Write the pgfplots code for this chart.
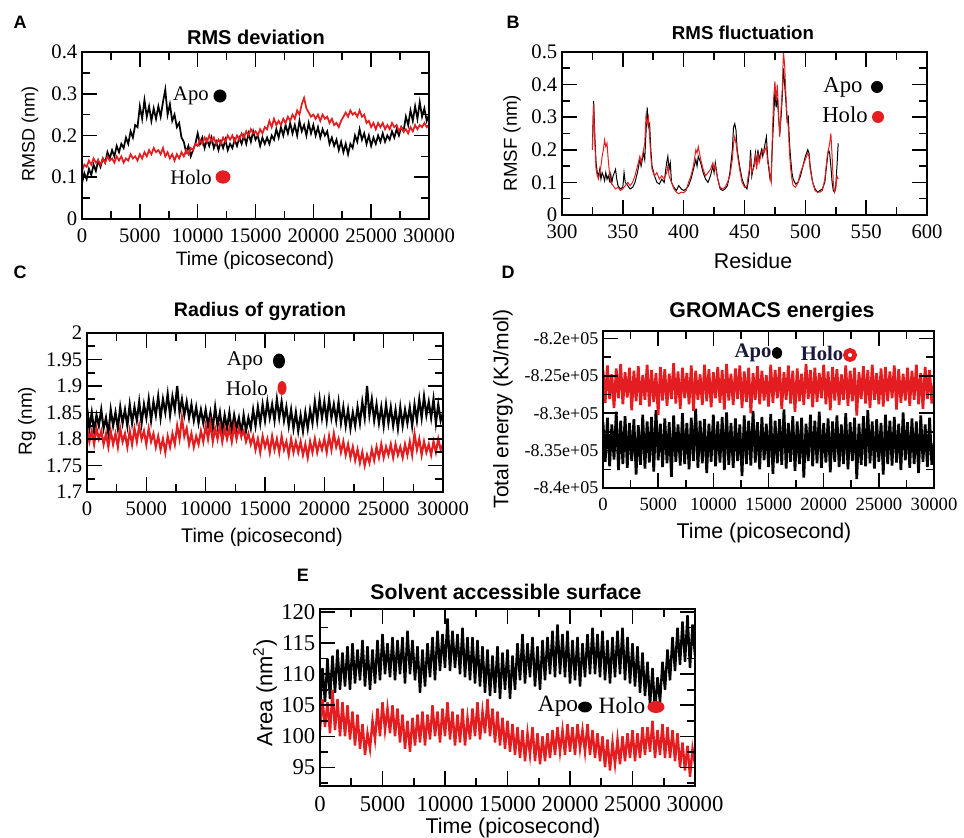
\documentclass[border=0pt]{standalone}
\usepackage{pgfplots}
\pgfplotsset{compat=1.18}
\usepackage{fontspec}
\setmainfont{Liberation Serif}
\newfontfamily\arial{Liberation Sans}
\definecolor{hred}{RGB}{228,30,32}
\definecolor{navy}{RGB}{25,25,60}

\newcommand{\fs}[1]{\fontsize{#1}{#1}\selectfont}
\tikzset{tk/.style={draw=black, line width=1.2pt}}

% inward ticks on the frame, in the pixel scope:
% \tx{left}{width}{top}{bottom}{xmin}{xrange}{values}{length}
\newcommand{\tx}[8]{\foreach \vv in {#7}{
  \draw[tk] ({#1+(\vv-(#5))/#6*#2},#4) -- ++(0,-#8);
  \draw[tk] ({#1+(\vv-(#5))/#6*#2},#3) -- ++(0,#8);}}
% \ty{left}{right}{bottom}{height}{ymin}{yrange}{values}{length}
\newcommand{\ty}[8]{\foreach \vv in {#7}{
  \draw[tk] (#1,{#3-(\vv-(#5))/#6*#4}) -- ++(#8,0);
  \draw[tk] (#2,{#3-(\vv-(#5))/#6*#4}) -- ++(-#8,0);}}
\newcommand{\timetk}[4]{% time axis ticks: left, width, top, bottom
  \tx{#1}{#2}{#3}{#4}{0}{30}{5,10,15,20,25}{15}
  \tx{#1}{#2}{#3}{#4}{0}{30}{2.5,7.5,12.5,17.5,22.5,27.5}{8}}

\pgfplotsset{
  panel/.style={
    scale only axis, anchor=south west,
    axis line style={line width=1.2pt},
    every tick/.style={black, line width=1.2pt},
    major tick length=11pt, minor tick length=6pt,
    minor x tick num=1, minor y tick num=1,
    scaled ticks=false,
    /pgf/number format/assume math mode=true,
    /pgf/number format/1000 sep={},
    tick label style={font=\fs{15.5}},
    xticklabel style={yshift=-4pt},
  },
  time/.style={xmin=0, xmax=30000, xtick={0,5000,10000,15000,20000,25000,30000}},
  apo/.style={black, line width=#1},
  holo/.style={hred, line width=#1},
}

\begin{document}
\begin{tikzpicture}
\useasboundingbox (0,0) rectangle (723pt,628.5pt);

% ---------------- A: RMSD
\begin{axis}[panel, time, at={(61.5pt,464.25pt)}, width=260.25pt, height=125.25pt,
  ymin=0, ymax=0.4, ytick={0,0.1,0.2,0.3,0.4}]
\addplot[apo=1.3pt] table[row sep=\\, x expr=\coordindex*200, y index=0] {
0.085\\0.11\\0.095\\0.12\\0.105\\0.13\\0.115\\0.14\\0.125\\0.145\\
0.135\\0.16\\0.145\\0.165\\0.15\\0.175\\0.16\\0.18\\0.17\\0.195\\
0.18\\0.21\\0.195\\0.225\\0.22\\0.27\\0.24\\0.285\\0.245\\0.27\\
0.235\\0.265\\0.24\\0.27\\0.245\\0.28\\0.31\\0.25\\0.275\\0.235\\
0.25\\0.22\\0.23\\0.195\\0.185\\0.16\\0.175\\0.15\\0.165\\0.18\\
0.205\\0.18\\0.195\\0.17\\0.19\\0.175\\0.195\\0.17\\0.185\\0.165\\
0.185\\0.17\\0.19\\0.165\\0.18\\0.17\\0.19\\0.175\\0.195\\0.18\\
0.2\\0.18\\0.205\\0.185\\0.21\\0.19\\0.2\\0.175\\0.195\\0.18\\
0.195\\0.18\\0.2\\0.19\\0.215\\0.195\\0.22\\0.2\\0.225\\0.205\\
0.23\\0.205\\0.225\\0.2\\0.235\\0.21\\0.225\\0.2\\0.23\\0.205\\
0.225\\0.2\\0.22\\0.195\\0.215\\0.2\\0.21\\0.18\\0.195\\0.175\\
0.19\\0.165\\0.185\\0.16\\0.18\\0.155\\0.18\\0.17\\0.2\\0.185\\
0.215\\0.19\\0.205\\0.18\\0.2\\0.175\\0.195\\0.18\\0.2\\0.185\\
0.205\\0.185\\0.2\\0.19\\0.21\\0.195\\0.215\\0.2\\0.22\\0.21\\
0.245\\0.225\\0.26\\0.235\\0.27\\0.24\\0.28\\0.245\\0.265\\0.235\\
0.25\\
};
\addplot[holo=1.3pt] table[row sep=\\, x expr=\coordindex*200, y index=0] {
0.115\\0.13\\0.125\\0.14\\0.13\\0.145\\0.135\\0.14\\0.13\\0.145\\
0.135\\0.15\\0.14\\0.145\\0.135\\0.15\\0.14\\0.15\\0.135\\0.145\\
0.14\\0.155\\0.145\\0.15\\0.14\\0.155\\0.145\\0.16\\0.15\\0.165\\
0.155\\0.17\\0.16\\0.165\\0.155\\0.17\\0.15\\0.16\\0.145\\0.155\\
0.14\\0.155\\0.145\\0.16\\0.15\\0.165\\0.155\\0.17\\0.165\\0.18\\
0.175\\0.19\\0.18\\0.195\\0.185\\0.2\\0.185\\0.195\\0.18\\0.19\\
0.18\\0.195\\0.185\\0.2\\0.19\\0.2\\0.185\\0.2\\0.19\\0.205\\
0.195\\0.21\\0.2\\0.215\\0.205\\0.21\\0.2\\0.215\\0.205\\0.22\\
0.215\\0.235\\0.22\\0.24\\0.225\\0.235\\0.225\\0.24\\0.23\\0.245\\
0.235\\0.25\\0.24\\0.26\\0.25\\0.275\\0.29\\0.265\\0.255\\0.245\\
0.25\\0.24\\0.25\\0.235\\0.25\\0.24\\0.245\\0.23\\0.24\\0.225\\
0.23\\0.22\\0.235\\0.245\\0.255\\0.245\\0.26\\0.25\\0.255\\0.245\\
0.26\\0.245\\0.25\\0.23\\0.235\\0.22\\0.23\\0.215\\0.23\\0.22\\
0.23\\0.215\\0.225\\0.215\\0.23\\0.22\\0.225\\0.21\\0.22\\0.21\\
0.215\\0.205\\0.22\\0.21\\0.225\\0.215\\0.225\\0.22\\0.23\\0.22\\
0.225\\
};
\end{axis}

% ---------------- B: RMSF
\begin{axis}[panel, at={(421.5pt,467.25pt)}, width=273.75pt, height=122.25pt,
  xmin=300, xmax=600, xtick={300,350,400,450,500,550,600},
  ymin=0, ymax=0.5, ytick={0,0.1,0.2,0.3,0.4,0.5}]
\addplot[apo=0.75pt] coordinates {
(325,0.21) (326,0.35) (327,0.24) (328,0.16) (329,0.13) (330,0.12) (331,0.14) (332,0.11)
(333,0.13) (334,0.12) (335,0.105) (336,0.13) (337,0.11) (338,0.12) (339,0.105) (340,0.125)
(341,0.1) (342,0.12) (344,0.14) (345,0.11) (346,0.09) (348,0.08) (350,0.085) (351,0.13)
(352,0.1) (354,0.09) (356,0.08) (358,0.085) (360,0.1) (362,0.13) (364,0.17) (365,0.15)
(367,0.19) (368,0.17) (369,0.25) (370,0.33) (371,0.27) (372,0.28) (373,0.2) (374,0.15)
(376,0.12) (378,0.1) (380,0.095) (382,0.11) (384,0.1) (385,0.13) (386,0.16) (387,0.18)
(388,0.14) (389,0.16) (390,0.1) (392,0.085) (394,0.075) (396,0.09) (398,0.08) (400,0.075)
(402,0.08) (404,0.09) (406,0.11) (408,0.14) (410,0.17) (411,0.15) (412,0.18) (414,0.16)
(416,0.13) (418,0.11) (420,0.1) (422,0.12) (424,0.15) (425,0.13) (426,0.16) (428,0.11)
(430,0.08) (432,0.075) (434,0.08) (436,0.09) (438,0.13) (440,0.2) (441,0.27) (442,0.28)
(443,0.26) (444,0.2) (446,0.15) (448,0.11) (450,0.09) (452,0.08) (453,0.1) (454,0.13)
(455,0.2) (456,0.12) (458,0.16) (459,0.19) (460,0.15) (461,0.2) (462,0.17) (464,0.2)
(465,0.18) (466,0.2) (467,0.22) (468,0.24) (469,0.18) (470,0.14) (471,0.11) (472,0.13)
(473,0.22) (474,0.3) (475,0.38) (476,0.33) (477,0.36) (478,0.3) (479,0.25) (480,0.3)
(481,0.36) (482,0.45) (483,0.4) (484,0.35) (485,0.29) (486,0.3) (487,0.22) (488,0.17)
(489,0.13) (490,0.11) (492,0.095) (494,0.1) (496,0.12) (498,0.15) (500,0.18) (502,0.2)
(503,0.19) (504,0.15) (506,0.1) (508,0.08) (510,0.07) (512,0.075) (514,0.08) (516,0.1)
(518,0.17) (519,0.2) (520,0.19) (521,0.15) (522,0.1) (523,0.075) (524,0.07) (525,0.09)
(526,0.15) (527,0.22)
};
\addplot[holo=0.75pt] coordinates {
(325,0.2) (326,0.34) (327,0.22) (328,0.14) (329,0.12) (330,0.11) (331,0.13) (332,0.15)
(333,0.18) (334,0.2) (335,0.23) (336,0.21) (337,0.22) (338,0.17) (339,0.13) (340,0.1)
(342,0.09) (344,0.08) (346,0.085) (348,0.075) (350,0.08) (352,0.09) (354,0.1) (356,0.09)
(358,0.1) (360,0.12) (362,0.15) (364,0.18) (365,0.16) (367,0.2) (368,0.22) (369,0.3)
(370,0.28) (371,0.3) (372,0.24) (373,0.18) (374,0.14) (376,0.12) (378,0.13) (380,0.11)
(382,0.12) (384,0.11) (386,0.13) (387,0.15) (388,0.12) (390,0.1) (392,0.08) (394,0.07)
(396,0.065) (398,0.07) (400,0.068) (402,0.075) (404,0.1) (406,0.12) (408,0.15) (410,0.2)
(411,0.19) (412,0.21) (414,0.17) (416,0.14) (418,0.12) (420,0.13) (422,0.14) (424,0.16)
(425,0.14) (426,0.15) (428,0.11) (430,0.085) (432,0.08) (434,0.085) (436,0.1) (438,0.12)
(440,0.17) (441,0.22) (442,0.24) (443,0.22) (444,0.19) (446,0.14) (448,0.1) (450,0.085)
(452,0.09) (453,0.12) (454,0.14) (455,0.17) (456,0.13) (458,0.15) (459,0.18) (460,0.14)
(461,0.19) (462,0.16) (464,0.19) (465,0.2) (466,0.19) (467,0.2) (468,0.21) (469,0.16)
(470,0.15) (471,0.12) (472,0.1) (473,0.26) (474,0.36) (475,0.41) (476,0.35) (477,0.4)
(478,0.31) (479,0.24) (480,0.32) (481,0.38) (482,0.5) (483,0.46) (484,0.37) (485,0.3)
(486,0.27) (487,0.19) (488,0.14) (489,0.11) (490,0.09) (492,0.085) (494,0.1) (496,0.13)
(498,0.15) (500,0.17) (502,0.19) (503,0.18) (504,0.14) (506,0.1) (508,0.075) (510,0.07)
(512,0.07) (514,0.075) (516,0.11) (518,0.18) (520,0.22) (521,0.25) (522,0.18) (523,0.1)
(524,0.07) (525,0.08) (526,0.12) (527,0.11)
};
\end{axis}

% ---------------- C: Rg
\begin{axis}[panel, time, at={(65.25pt,259.5pt)}, width=267pt, height=119.25pt,
  ymin=1.7, ymax=2, ytick={1.7,1.75,1.8,1.85,1.9,1.95,2}]
\addplot[apo=1.6pt] table[row sep=\\, x expr=\coordindex*200, y index=0] {
1.86\\1.82\\1.85\\1.815\\1.845\\1.825\\1.855\\1.82\\1.84\\1.81\\
1.855\\1.825\\1.85\\1.82\\1.86\\1.83\\1.855\\1.825\\1.865\\1.83\\
1.86\\1.835\\1.87\\1.83\\1.865\\1.84\\1.875\\1.835\\1.87\\1.845\\
1.88\\1.84\\1.875\\1.85\\1.885\\1.845\\1.88\\1.855\\1.9\\1.85\\
1.875\\1.845\\1.87\\1.84\\1.865\\1.835\\1.86\\1.83\\1.855\\1.83\\
1.855\\1.825\\1.85\\1.82\\1.86\\1.825\\1.85\\1.815\\1.845\\1.82\\
1.85\\1.815\\1.845\\1.82\\1.84\\1.81\\1.845\\1.815\\1.84\\1.82\\
1.855\\1.825\\1.86\\1.83\\1.865\\1.835\\1.87\\1.84\\1.865\\1.835\\
1.875\\1.84\\1.87\\1.835\\1.86\\1.825\\1.855\\1.82\\1.85\\1.815\\
1.845\\1.815\\1.85\\1.82\\1.855\\1.83\\1.87\\1.835\\1.875\\1.84\\
1.87\\1.835\\1.875\\1.84\\1.865\\1.835\\1.87\\1.83\\1.86\\1.825\\
1.855\\1.82\\1.85\\1.825\\1.86\\1.83\\1.87\\1.84\\1.9\\1.845\\
1.875\\1.835\\1.865\\1.83\\1.86\\1.825\\1.865\\1.83\\1.86\\1.825\\
1.855\\1.82\\1.86\\1.825\\1.855\\1.83\\1.86\\1.825\\1.865\\1.835\\
1.875\\1.84\\1.88\\1.845\\1.87\\1.84\\1.875\\1.83\\1.865\\1.835\\
1.85\\
};
\addplot[holo=1.6pt] table[row sep=\\, x expr=\coordindex*200, y index=0] {
1.82\\1.795\\1.815\\1.79\\1.82\\1.8\\1.815\\1.79\\1.81\\1.785\\
1.815\\1.79\\1.81\\1.785\\1.82\\1.795\\1.81\\1.785\\1.815\\1.79\\
1.82\\1.795\\1.825\\1.8\\1.815\\1.79\\1.82\\1.795\\1.81\\1.785\\
1.805\\1.78\\1.8\\1.775\\1.805\\1.785\\1.81\\1.79\\1.825\\1.8\\
1.84\\1.805\\1.82\\1.79\\1.81\\1.785\\1.805\\1.79\\1.815\\1.795\\
1.825\\1.8\\1.83\\1.795\\1.82\\1.8\\1.825\\1.795\\1.82\\1.8\\
1.82\\1.795\\1.825\\1.8\\1.82\\1.805\\1.815\\1.795\\1.81\\1.79\\
1.805\\1.78\\1.8\\1.775\\1.805\\1.785\\1.8\\1.775\\1.805\\1.78\\
1.8\\1.775\\1.805\\1.78\\1.795\\1.77\\1.8\\1.775\\1.795\\1.775\\
1.795\\1.77\\1.79\\1.765\\1.795\\1.775\\1.8\\1.775\\1.795\\1.78\\
1.8\\1.775\\1.805\\1.78\\1.81\\1.785\\1.8\\1.775\\1.795\\1.77\\
1.79\\1.765\\1.785\\1.76\\1.78\\1.755\\1.775\\1.75\\1.77\\1.755\\
1.78\\1.76\\1.785\\1.765\\1.79\\1.765\\1.785\\1.77\\1.79\\1.765\\
1.79\\1.77\\1.785\\1.765\\1.79\\1.77\\1.795\\1.77\\1.81\\1.78\\
1.8\\1.77\\1.795\\1.775\\1.79\\1.77\\1.795\\1.775\\1.8\\1.78\\
1.79\\
};
\end{axis}

% ---------------- D: energies
\begin{axis}[panel, time, at={(452.25pt,262.5pt)}, width=248.25pt, height=117.75pt,
  ymin=-840000, ymax=-819000,
  ytick={-840000,-835000,-830000,-825000,-820000},
  yticklabels={-8.4e+05,-8.35e+05,-8.3e+05,-8.25e+05,-8.2e+05},
  tick label style={font=\fs{14}}, yticklabel style={font=\fs{13.5}}]
\addplot[apo=2pt] table[row sep=\\, x expr=\coordindex*200, y index=0] {
-831200\\-836500\\-830600\\-837100\\-831500\\-836200\\-829800\\-837600\\-831000\\-836800\\
-830400\\-837300\\-831300\\-836400\\-830800\\-838200\\-831600\\-836900\\-830200\\-837400\\
-831100\\-836600\\-830500\\-837800\\-829600\\-836300\\-831400\\-837200\\-830700\\-836700\\
-831200\\-838500\\-830300\\-836500\\-831500\\-837000\\-830000\\-836800\\-831300\\-837500\\
-830600\\-836400\\-829400\\-837300\\-831000\\-836700\\-830800\\-838000\\-831400\\-836500\\
-830200\\-837100\\-831100\\-836600\\-830500\\-837600\\-829900\\-836900\\-831300\\-837300\\
-830700\\-836400\\-831500\\-838400\\-830300\\-836800\\-831000\\-837000\\-829700\\-836600\\
-831200\\-837500\\-830500\\-836300\\-831400\\-837200\\-830100\\-838100\\-831000\\-836700\\
-830800\\-836900\\-829500\\-837400\\-831300\\-836500\\-830400\\-837700\\-831100\\-836800\\
-830600\\-838600\\-831400\\-836400\\-830200\\-837100\\-831000\\-836700\\-829800\\-837300\\
-831300\\-836600\\-830700\\-837900\\-831100\\-836500\\-830300\\-837200\\-831500\\-836800\\
-830000\\-837500\\-831200\\-836400\\-830600\\-838800\\-831400\\-836900\\-830400\\-837100\\
-829600\\-836700\\-831100\\-837400\\-830800\\-836500\\-831300\\-838200\\-830200\\-836800\\
-831000\\-837000\\-830500\\-836600\\-831400\\-837600\\-829900\\-836300\\-831200\\-837300\\
-830700\\-836800\\-831100\\-838000\\-830300\\-836500\\-831500\\-837200\\-830600\\-836900\\
-834000\\
};
\addplot[holo=2pt] table[row sep=\\, x expr=\coordindex*200, y index=0] {
-824200\\-828600\\-823600\\-828100\\-824800\\-829300\\-824000\\-828000\\-823400\\-828800\\
-824500\\-827900\\-823900\\-829600\\-824300\\-828400\\-823700\\-828900\\-824900\\-828200\\
-823500\\-829100\\-824200\\-828500\\-824600\\-830200\\-823800\\-828300\\-824100\\-829000\\
-824700\\-828100\\-823300\\-828700\\-824400\\-829400\\-823900\\-828000\\-824600\\-828800\\
-823600\\-829700\\-824300\\-828200\\-824800\\-828900\\-823500\\-828400\\-824100\\-829200\\
-824500\\-828000\\-823800\\-828600\\-824200\\-829500\\-823400\\-828300\\-824700\\-828900\\
-824000\\-828100\\-823600\\-829300\\-824400\\-828500\\-823900\\-830000\\-824600\\-828200\\
-823700\\-828800\\-824300\\-828300\\-824900\\-829100\\-823500\\-828600\\-824200\\-828000\\
-823800\\-829400\\-824500\\-828200\\-823600\\-828700\\-824300\\-829800\\-824000\\-828400\\
-824700\\-828900\\-823400\\-828100\\-824200\\-829200\\-823900\\-828500\\-824600\\-828000\\
-823500\\-828800\\-824400\\-829600\\-823800\\-828300\\-824100\\-828900\\-824800\\-828200\\
-823600\\-829000\\-824300\\-828400\\-823900\\-830300\\-824500\\-828100\\-823700\\-828700\\
-824200\\-829300\\-823500\\-828200\\-824600\\-828800\\-824000\\-829100\\-823800\\-828400\\
-824400\\-828000\\-823600\\-829500\\-824100\\-828600\\-824700\\-828300\\-823900\\-829000\\
-824300\\-828200\\-823500\\-828800\\-824600\\-829400\\-823800\\-828100\\-824200\\-828700\\
-826000\\
};
\end{axis}

% ---------------- E: SASA
\begin{axis}[panel, time, at={(240pt,39pt)}, width=281.25pt, height=132.75pt,
  ymin=92, ymax=120.5, ytick={95,100,105,110,115,120},
  tick label style={font=\fs{17}}]
\addplot[apo=1.8pt] table[row sep=\\, x expr=\coordindex*200, y index=0] {
104.5\\111\\105.5\\112.5\\106\\113\\107\\114\\107.5\\113.5\\
108\\114.5\\107.5\\115\\108.5\\114\\109\\115.5\\108\\114.5\\
107.5\\114\\108.5\\115.5\\109\\116.5\\110\\115\\109.5\\116\\
109\\115.5\\110\\116\\108.5\\117\\110\\115.5\\109\\114.5\\
107\\114\\108\\115\\109.5\\116\\109\\117\\110.5\\116.5\\
111\\119\\110.5\\117\\111\\116.5\\110\\117.5\\109.5\\116\\
109\\116\\108.5\\115.5\\108\\114.5\\107\\114\\106.5\\113\\
107\\114.5\\106\\113.5\\107.5\\114\\106\\113\\107.5\\115\\
109\\116.5\\108.5\\115\\109.5\\116\\108\\114.5\\107.5\\115.5\\
109\\116\\110\\117\\109.5\\118\\110\\116.5\\109.5\\117\\
108.5\\115.5\\109\\116\\108\\115\\109.5\\116.5\\110\\117.5\\
110\\116.5\\109.5\\117\\109\\115.5\\108.5\\116\\109.5\\117\\
110\\117.5\\109\\116\\108.5\\115\\108\\114.5\\107\\113.5\\
106.5\\112\\105\\111\\104\\109.5\\105.5\\112\\107.5\\114\\
109\\116\\110.5\\117.5\\111.5\\118.5\\112\\119.5\\111\\118\\
113\\
};
\addplot[holo=1.8pt] table[row sep=\\, x expr=\coordindex*200, y index=0] {
101\\106\\101.5\\105.5\\100.5\\107.5\\101\\106\\100\\105.5\\
100\\105\\99.5\\104\\98.5\\103.5\\98\\102\\97\\100.5\\
98\\102.5\\99.5\\104.5\\100\\105.5\\101\\104.5\\100.5\\105\\
100\\104.5\\99\\103.5\\98\\102.5\\97.5\\103\\98.5\\103.5\\
99\\104\\98.5\\103.5\\99.5\\105\\100\\104\\99\\104.5\\
100\\105.5\\99.5\\104\\98.5\\103.5\\99\\104.5\\98.5\\103\\
99.5\\104.5\\100\\105.5\\99.5\\104\\100.5\\106\\100\\104.5\\
99\\104\\98.5\\103\\98\\102.5\\97.5\\102\\97\\101.5\\
96.5\\101\\96\\100.5\\97\\101.5\\96\\100.5\\95.5\\100\\
96\\100.5\\96.5\\101\\97\\101.5\\97.5\\101\\97\\102\\
97.5\\101.5\\97\\102\\98\\101\\97.5\\102\\97\\101\\
96.5\\100.5\\96\\100\\95\\99.5\\94.5\\99\\95.5\\99.5\\
95.5\\100\\96\\100.5\\96.5\\101\\96\\100.5\\96.5\\101.5\\
97\\101.5\\97.5\\102.5\\96.5\\101\\97\\102\\96.5\\101.5\\
96.5\\101\\96\\100.5\\95\\99\\94.5\\98.5\\93.5\\98\\
95.5\\
};
\end{axis}

% ---------------- frames, ticks and text, in pixel coordinates of the reference
\begin{scope}[x=0.75pt, y=-0.75pt, shift={(0,628.5pt)}]
  % frames
  \draw[tk] (82,52) rectangle (429,219);
  \draw[tk] (562,52) rectangle (927,215);
  \draw[tk] (87,333) rectangle (443,492);
  \draw[tk] (603,331) rectangle (934,488);
  \draw[tk] (320,609) rectangle (695,786);
  % A
  \timetk{82}{347}{52}{219}
  \ty{82}{429}{219}{167}{0}{0.4}{0.1,0.2,0.3}{15}
  \ty{82}{429}{219}{167}{0}{0.4}{0.05,0.15,0.25,0.35}{8}
  % B
  \tx{562}{365}{52}{215}{300}{300}{350,400,450,500,550}{15}
  \tx{562}{365}{52}{215}{300}{300}{325,375,425,475,525,575}{8}
  \ty{562}{927}{215}{163}{0}{0.5}{0.1,0.2,0.3,0.4}{15}
  \ty{562}{927}{215}{163}{0}{0.5}{0.05,0.15,0.25,0.35,0.45}{8}
  % C
  \timetk{87}{356}{333}{492}
  \ty{87}{443}{492}{159}{1.7}{0.3}{1.75,1.8,1.85,1.9,1.95}{15}
  \ty{87}{443}{492}{159}{1.7}{0.3}{1.725,1.775,1.825,1.875,1.925,1.975}{8}
  % D (values in thousands)
  \timetk{603}{331}{331}{488}
  \ty{603}{934}{488}{157}{-840}{21}{-835,-830,-825,-820}{15}
  \ty{603}{934}{488}{157}{-840}{21}{-837.5,-832.5,-827.5,-822.5}{8}
  % E
  \timetk{320}{375}{609}{786}
  \ty{320}{695}{786}{177}{92}{28.5}{95,100,105,110,115,120}{15}
  \ty{320}{695}{786}{177}{92}{28.5}{92.5,97.5,102.5,107.5,112.5,117.5}{8}
  % panel letters
  \node[font=\arial\bfseries\fs{13.5}] at (20,22) {A};
  \node[font=\arial\bfseries\fs{13.5}] at (513,22) {B};
  \node[font=\arial\bfseries\fs{13.5}] at (20,272) {C};
  \node[font=\arial\bfseries\fs{13.5}] at (508,272) {D};
  \node[font=\arial\bfseries\fs{13.5}] at (303,575) {E};
  % titles
  \node[font=\arial\bfseries\fs{15}] at (256,37) {RMS deviation};
  \node[font=\arial\bfseries\fs{14}] at (743,33) {RMS fluctuation};
  \node[font=\arial\bfseries\fs{14.7}] at (260,311) {Radius of gyration};
  \node[font=\arial\bfseries\fs{16}] at (772,312) {GROMACS energies};
  \node[font=\arial\bfseries\fs{15.9}] at (506,592) {Solvent accessible surface};
  % axis labels
  \node[font=\arial\fs{14.5}] at (255,261) {Time (picosecond)};
  \node[font=\arial\fs{13.5}, rotate=90] at (30,134) {RMSD (nm)};
  \node[font=\arial\fs{16}] at (753,261) {Residue};
  \node[font=\arial\fs{14}, rotate=90] at (512,143) {RMSF (nm)};
  \node[font=\arial\fs{14.8}] at (262,537) {Time (picosecond)};
  \node[font=\arial\fs{14.2}, rotate=90] at (27,421) {Rg (nm)};
  \node[font=\arial\fs{16}] at (764,533) {Time (picosecond)};
  \node[font=\arial\fs{15.8}, rotate=90] at (503,409) {Total energy (KJ/mol)};
  \node[font=\arial\fs{16}] at (513,828) {Time (picosecond)};
  \node[font=\arial\fs{16.5}, rotate=90] at (265,693) {Area (nm\textsuperscript{2})};
  % in-plot keys
  \node[font=\fs{15.5}] at (191,96) {Apo};
  \fill[black] (220,96) circle (4.9pt);
  \node[font=\fs{15.5}] at (191,177) {Holo};
  \fill[hred] (223,177) ellipse (5.6pt and 5pt);
  \node[font=\fs{17}] at (843,87) {Apo};
  \fill[black] (877,87) circle (4.5pt);
  \node[font=\fs{17}] at (845,115) {Holo};
  \fill[hred] (878,117) circle (4.5pt);
  \node[font=\fs{15.7}] at (245,361) {Apo};
  \fill[black] (279,361) ellipse (4.5pt and 5.6pt);
  \node[font=\fs{15.7}] at (247,388) {Holo};
  \fill[hred] (282,388) ellipse (3.4pt and 5.2pt);
  \node[font=\bfseries\fs{15.5}, text=navy] at (753,353) {Apo};
  \fill[black] (777,353) ellipse (3.8pt and 4.5pt);
  \node[font=\bfseries\fs{15.5}, text=navy] at (822,353) {Holo};
  \draw[hred, line width=3.4pt] (850,355) circle (3.5pt);
  \node[font=\fs{17.5}] at (558,706) {Apo};
  \fill[black] (585,707) ellipse (5.2pt and 4.1pt);
  \node[font=\fs{17.5}] at (622,706) {Holo};
  \fill[hred] (656,707) ellipse (6.4pt and 4.5pt);
\end{scope}
\end{tikzpicture}
\end{document}
